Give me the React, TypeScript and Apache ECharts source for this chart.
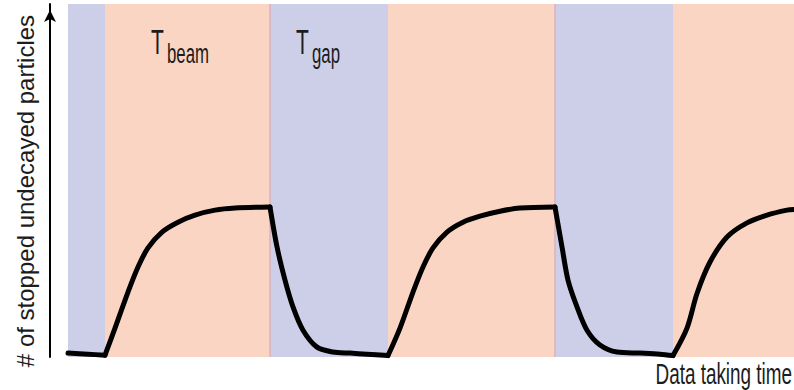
import { useEffect, useRef } from "react";
import * as echarts from "echarts";

// Beam cycle: alternating gap / beam phases (time in arbitrary units)
const phaseEdges = [0, 37, 202, 320, 487, 605, 726];
const phaseKinds = ["gap", "beam", "gap", "beam", "gap", "beam"];

// Stopped, not yet decayed particle population over time
const time = [
  0, 20, 37,
  47, 60, 70, 80, 94, 110, 127, 147, 167, 202,
  209, 217, 225, 235, 249, 265, 282, 299, 320,
  332, 345, 355, 365, 379, 395, 412, 432, 452, 487,
  494, 500, 509, 519, 532, 549, 572, 592, 605,
  619, 629, 642, 659, 679, 699, 719, 726,
];
const particles = [
  1.1, 0.8, 0.5,
  8.2, 18.4, 25.5, 30.9, 35.4, 38.2, 40.2, 41.6, 42.2, 42.5,
  31.2, 21.8, 14.2, 7.6, 2.8, 1.4, 1.1, 0.8, 0.4,
  8.2, 18.4, 25.5, 30.9, 35.4, 38.2, 39.9, 41.3, 42.2, 42.5,
  31.2, 21.8, 14.2, 7.6, 3.4, 1.4, 1.1, 0.8, 0.4,
  8.2, 18.0, 26.9, 34.0, 38.0, 40.2, 41.6, 41.8,
];

const yTitle = "# of stopped undecayed particles";
const xTitle = "Data taking time";

const GAP_COLOR = "#cdcfe9";
const BEAM_COLOR = "#fad5c3";
const TEXT_COLOR = "#1c1c1c";
const FONT = '"Liberation Sans", Arial, sans-serif';

export default function App() {
  const ref = useRef<HTMLDivElement>(null);

  useEffect(() => {
    if (!ref.current) return;
    const chart = echarts.init(ref.current, null, { renderer: "svg" });

    const bands = phaseKinds.map((kind, i) => [
      {
        xAxis: phaseEdges[i],
        itemStyle: { color: kind === "gap" ? GAP_COLOR : BEAM_COLOR },
      },
      { xAxis: phaseEdges[i + 1] },
    ]);

    // thin seam where a beam phase turns into a gap
    const seams = phaseKinds
      .map((kind, i) => (kind === "beam" && i + 1 < phaseKinds.length ? { xAxis: phaseEdges[i + 1] } : null))
      .filter(Boolean);

    // one smoothed piece per phase, so the switch-over points stay sharp corners
    const pieces = phaseKinds.map((_, i) =>
      time
        .map((t, k) => [t, particles[k]])
        .filter(([t]) => t >= phaseEdges[i] && t <= phaseEdges[i + 1])
    );

    const label = (text: string, x: number, y: number, size: number, scaleX: number, extra: any = {}) => ({
      type: "text",
      x,
      y,
      z: 100,
      scaleX,
      rotation: extra.rotation || 0,
      style: {
        text,
        font: `${size}px ${FONT}`,
        fill: TEXT_COLOR,
        align: extra.align || "left",
        verticalAlign: "middle",
      },
    });

    chart.setOption({
      animation: false,
      grid: { left: 68, right: 0, top: 4, bottom: 33 },
      xAxis: {
        type: "value",
        min: phaseEdges[0],
        max: phaseEdges[phaseEdges.length - 1],
        axisLine: { show: false },
        axisTick: { show: false },
        axisLabel: { show: false },
        splitLine: { show: false },
      },
      yAxis: {
        type: "value",
        min: 0,
        max: 100,
        offset: 18,
        axisLine: {
          show: true,
          onZero: false,
          lineStyle: { color: "#000", width: 2 },
          symbol: ["none", "arrow"],
          symbolSize: [9, 12],
          symbolOffset: [0, -6],
        },
        axisTick: { show: false },
        axisLabel: { show: false },
        splitLine: { show: false },
      },
      series: [
        {
          type: "line",
          data: [],
          silent: true,
          z: 1,
          markArea: { silent: true, data: bands },
          markLine: {
            silent: true,
            symbol: ["none", "none"],
            label: { show: false },
            lineStyle: { color: "#dcb0bd", width: 1.5, type: "solid" },
            data: seams,
          },
        },
        ...pieces.map((data) => ({
          type: "line",
          z: 5,
          data,
          showSymbol: false,
          smooth: 0.3,
          lineStyle: { color: "#000", width: 5, cap: "round", join: "round" },
          silent: true,
        })),
      ],
      graphic: [
        label(yTitle, 25, 191, 24, 1, { rotation: Math.PI / 2, align: "center" }),
        label(xTitle, 792, 373, 30, 0.63, { align: "right" }),
        label("T", 151, 42, 35, 0.6),
        label("beam", 167, 53, 28, 0.6),
        label("T", 296, 42, 35, 0.6),
        label("gap", 312, 53, 28, 0.6),
      ],
    });

    return () => chart.dispose();
  }, []);

  return (
    <div
      ref={ref}
      style={{ position: "fixed", left: 0, top: 0, width: 794, height: 390, background: "#fff" }}
    />
  );
}
